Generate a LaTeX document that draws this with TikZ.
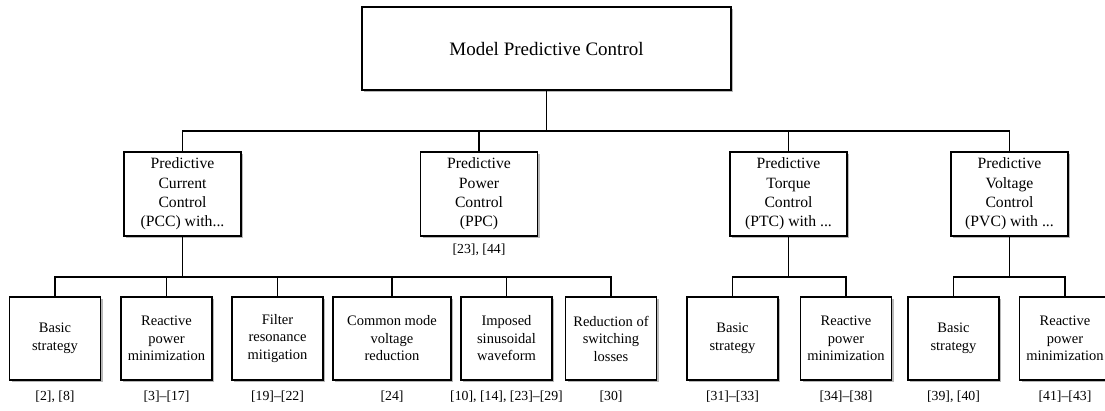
\documentclass[tikz,border=0pt]{standalone}
\usepackage{fontspec}
\setmainfont{Liberation Serif}
\usetikzlibrary{shadows}
\begin{document}
\begin{tikzpicture}[x=1pt,y=-1pt,
  shad/.style={drop shadow={shadow xshift=2.2pt,shadow yshift=-2.2pt,fill=black!28,opacity=1}},
  topbox/.style={draw,line width=1.2pt,fill=white,shad,minimum width=369pt,minimum height=83pt,font=\fontsize{19}{23}\selectfont,inner sep=0pt},
  midbox/.style={draw,line width=1.2pt,fill=white,shad,minimum width=117pt,minimum height=84pt,align=center,font=\fontsize{15.7}{19.3}\selectfont,inner sep=0pt},
  leafbox/.style={draw,line width=1.2pt,fill=white,shad,minimum width=91pt,minimum height=83pt,align=center,font=\fontsize{14.5}{17.5}\selectfont,inner sep=0pt},
  ref/.style={font=\fontsize{13.8}{16}\selectfont,inner sep=0pt},
  conn/.style={line width=1.2pt}]
\useasboundingbox (0,0) rectangle (1105,410);
\clip (0,0) rectangle (1105,410);
% top
\node[topbox] (mpc) at (546.5,48.5) {Model Predictive Control};
% level 1
\node[midbox] (pcc) at (182.5,194) {Predictive\\Current\\Control\\(PCC) with...};
\node[midbox] (ppc) at (479,194) {Predictive\\Power\\Control\\(PPC)};
\node[midbox] (ptc) at (788.5,194) {Predictive\\Torque\\Control\\(PTC) with ...};
\node[midbox] (pvc) at (1009.5,194) {Predictive\\Voltage\\Control\\(PVC) with ...};
\node[ref] (rppc) at (479,250) {[23], [44]};
% leaves
\node[leafbox] (l1) at (55,338.5) {Basic\\strategy};
\node[leafbox] (l2) at (166.5,338.5) {Reactive\\power\\minimization};
\node[leafbox] (l3) at (277.5,338.5) {Filter\\resonance\\mitigation};
\node[leafbox,minimum width=118pt] (l4) at (392,338.5) {Common mode\\voltage\\reduction};
\node[leafbox] (l5) at (506.5,338.5) {Imposed\\sinusoidal\\waveform};
\node[leafbox] (l6) at (611,338.5) {Reduction of\\switching\\losses};
\node[leafbox] (l7) at (732.5,338.5) {Basic\\strategy};
\node[leafbox] (l8) at (846,338.5) {Reactive\\power\\minimization};
\node[leafbox] (l9) at (953.5,338.5) {Basic\\strategy};
\node[leafbox] (l10) at (1065,338.5) {Reactive\\power\\minimization};
% refs
\node[ref] (r1) at (55,397) {[2], [8]};
\node[ref] (r2) at (166.5,397) {[3]--[17]};
\node[ref] (r3) at (277.5,397) {[19]--[22]};
\node[ref] (r4) at (392,397) {[24]};
\node[ref] (r5) at (506.5,397) {[10], [14], [23]--[29]};
\node[ref] (r6) at (611,397) {[30]};
\node[ref] (r7) at (732.5,397) {[31]--[33]};
\node[ref] (r8) at (846,397) {[34]--[38]};
\node[ref] (r9) at (953.5,397) {[39], [40]};
\node[ref] (r10) at (1065,397) {[41]--[43]};
% connectors
\coordinate (b1) at (546.5,131);
\draw[conn] (mpc.south) -- (b1);
\foreach \n in {pcc,ppc,ptc,pvc} \draw[conn] (\n.north) |- (b1);
\coordinate (b2) at (182.5,277);
\draw[conn] (pcc.south) -- (b2);
\foreach \n in {l1,l2,l3,l4,l5,l6} \draw[conn] (\n.north) |- (b2);
\coordinate (b3) at (788.5,277);
\draw[conn] (ptc.south) -- (b3);
\foreach \n in {l7,l8} \draw[conn] (\n.north) |- (b3);
\coordinate (b4) at (1009.5,277);
\draw[conn] (pvc.south) -- (b4);
\foreach \n in {l9,l10} \draw[conn] (\n.north) |- (b4);
\end{tikzpicture}
\end{document}
